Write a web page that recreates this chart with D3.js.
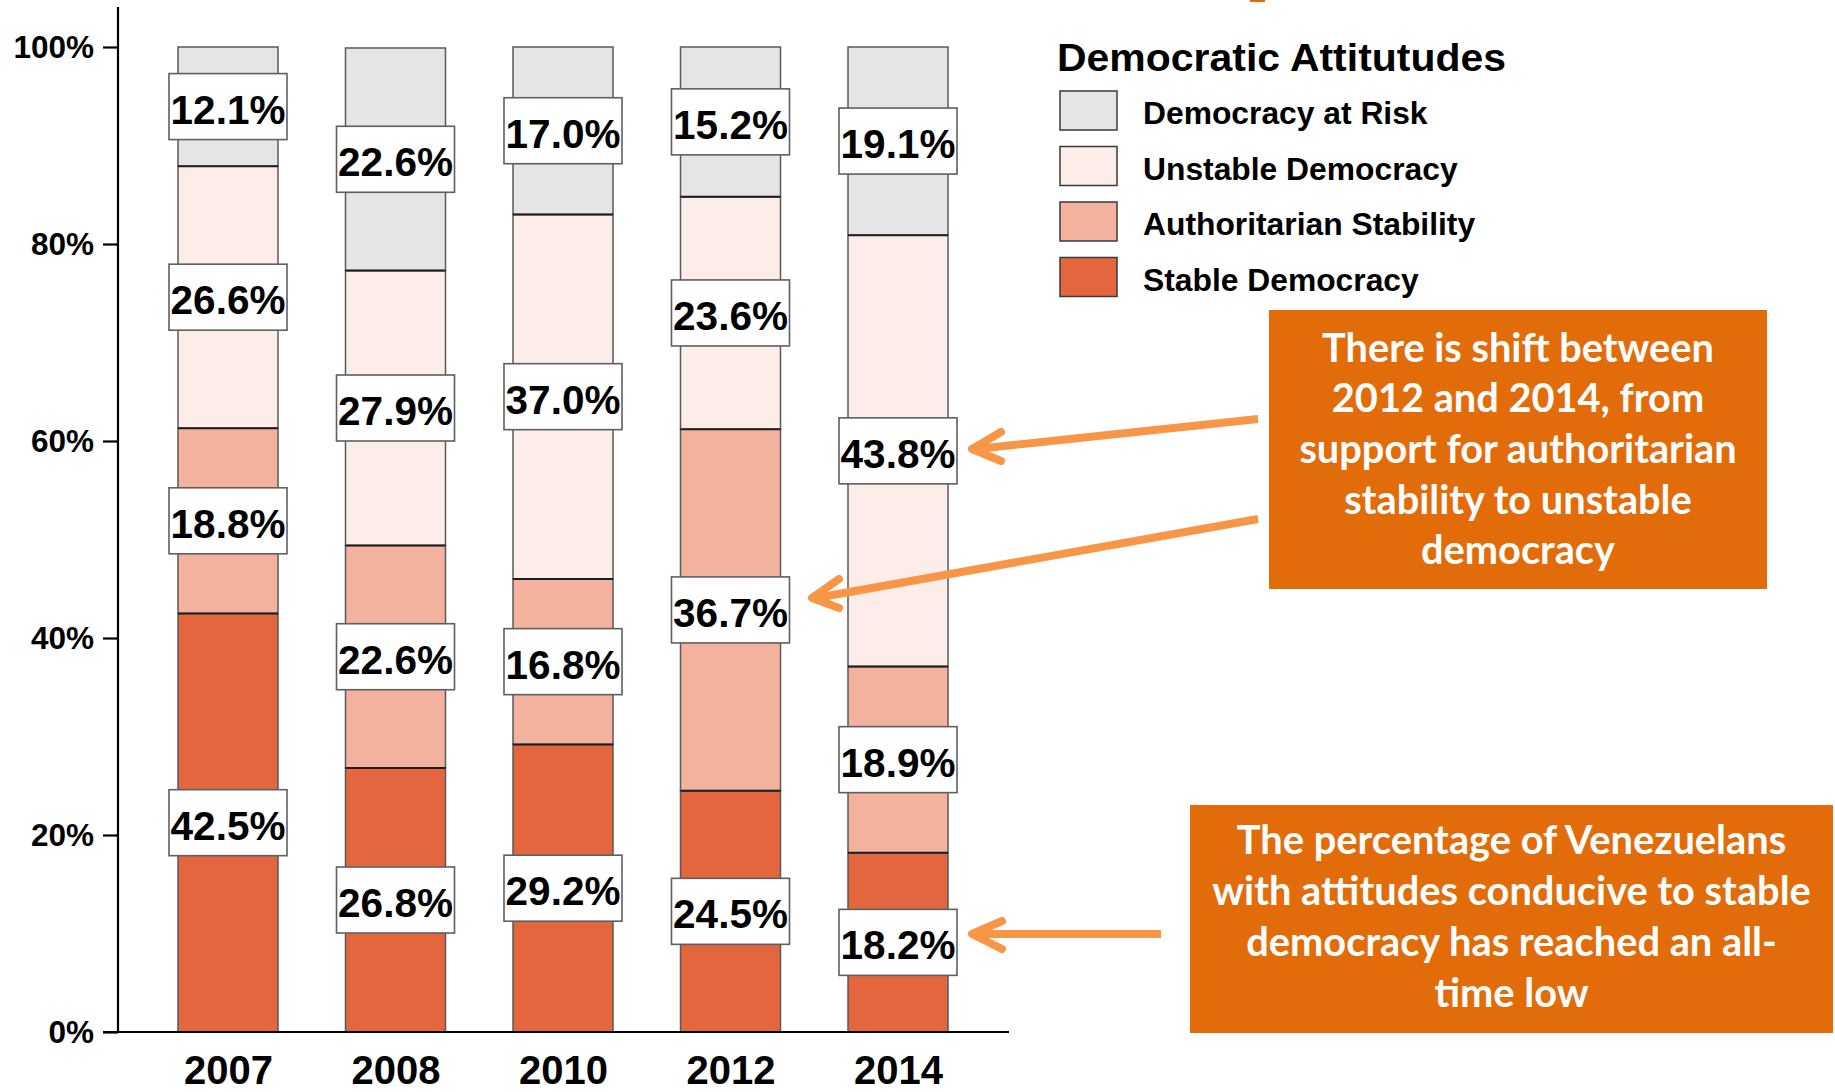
<!DOCTYPE html>
<html>
<head>
<meta charset="utf-8">
<script src="https://cdn.jsdelivr.net/npm/d3@7"></script>
<style>
  html, body { margin: 0; padding: 0; background: #fff; }
  svg { display: block; }
</style>
</head>
<body>
<svg id="chart" width="1835" height="1092"></svg>
<script>
// Survey waves
const years = ["2007", "2008", "2010", "2012", "2014"];

// Share of respondents in each attitude group (%), bottom to top of each bar
const stableDemocracy        = [42.5, 26.8, 29.2, 24.5, 18.2];
const authoritarianStability = [18.8, 22.6, 16.8, 36.7, 18.9];
const unstableDemocracy      = [26.6, 27.9, 37.0, 23.6, 43.8];
const democracyAtRisk        = [12.1, 22.6, 17.0, 15.2, 19.1];

const seriesKeys   = ["stable", "auth", "unstable", "risk"];
const seriesLabels = ["Stable Democracy", "Authoritarian Stability", "Unstable Democracy", "Democracy at Risk"];
const seriesColors = ["#e4663f", "#f2b29e", "#fcede9", "#e5e5e5"];

const yTicks = [0, 20, 40, 60, 80, 100];

const legendTitle = "Democratic Attitutudes";
const noteShift = ["There is shift between", "2012 and 2014, from", "support for authoritarian", "stability to unstable", "democracy"];
const noteLow = ["The percentage of Venezuelans", "with attitudes conducive to stable", "democracy has reached an all-", "time low"];

// ---- table for the stack ----
const rows = years.map((yr, i) => ({
  year: yr,
  stable: stableDemocracy[i],
  auth: authoritarianStability[i],
  unstable: unstableDemocracy[i],
  risk: democracyAtRisk[i]
}));
const stacked = d3.stack().keys(seriesKeys)(rows);

const svg = d3.select("#chart");
const FONT = "'Liberation Sans', Arial, sans-serif";
const NOTE_FONT = "Lato, 'Open Sans', sans-serif";

// ---- scales ----
const x = d3.scalePoint().domain(years).range([228, 898]);
const barW = 100;
const y = d3.scaleLinear().domain([0, 100]).range([1032, 47]);

// ---- y axis ----
const yAxis = d3.axisLeft(y).tickValues(yTicks).tickFormat(d => d + "%").tickSize(15).tickPadding(9);
const gy = svg.append("g").attr("transform", "translate(118,0)").call(yAxis);
gy.select(".domain").remove();
gy.selectAll(".tick line").attr("stroke", "#000").attr("stroke-width", 2.2);
gy.selectAll(".tick text")
  .attr("font-family", FONT).attr("font-weight", "bold").attr("font-size", 31.5).attr("fill", "#000");
svg.append("line").attr("x1", 118).attr("x2", 118).attr("y1", 7).attr("y2", y(0))
  .attr("stroke", "#000").attr("stroke-width", 2.2);

// ---- x axis ----
const xAxis = d3.axisBottom(x).tickSize(0).tickPadding(0);
const gx = svg.append("g").attr("transform", `translate(0,${y(0)})`).call(xAxis);
gx.select(".domain").remove();
gx.selectAll(".tick text")
  .attr("font-family", FONT).attr("font-weight", "bold").attr("font-size", 40).attr("fill", "#000")
  .attr("dy", null).attr("y", 52);

// ---- bars ----
const layers = svg.append("g").selectAll("g.layer").data(stacked).join("g")
  .attr("class", "layer")
  .attr("fill", (d, i) => seriesColors[i]);

layers.selectAll("rect").data(d => d).join("rect")
  .attr("x", d => x(d.data.year) - barW / 2)
  .attr("width", barW)
  .attr("y", d => y(d[1]))
  .attr("height", d => y(d[0]) - y(d[1]))
  .attr("stroke", "#5a5a5a")
  .attr("stroke-width", 1.5);

// dark separators between stacked segments
stacked.slice(0, -1).forEach(layer => {
  svg.append("g").selectAll("line").data(layer).join("line")
    .attr("x1", d => x(d.data.year) - barW / 2)
    .attr("x2", d => x(d.data.year) + barW / 2)
    .attr("y1", d => y(d[1])).attr("y2", d => y(d[1]))
    .attr("stroke", "#1e1e1e").attr("stroke-width", 2);
});

// x axis baseline drawn over the bars
svg.append("line").attr("x1", 103).attr("x2", 1009).attr("y1", y(0)).attr("y2", y(0))
  .attr("stroke", "#000").attr("stroke-width", 2.2);

// ---- value labels ----
const boxW = barW + 18, boxH = 66;
const labelData = [];
stacked.forEach(layer => layer.forEach(d => {
  labelData.push({ year: d.data.year, mid: (d[0] + d[1]) / 2, value: d.data[layer.key] });
}));
const lbl = svg.append("g").selectAll("g").data(labelData).join("g")
  .attr("transform", d => `translate(${x(d.year)},${y(d.mid)})`);
lbl.append("rect")
  .attr("x", -boxW / 2).attr("y", -boxH / 2).attr("width", boxW).attr("height", boxH)
  .attr("fill", "#fff").attr("stroke", "#5f5f5f").attr("stroke-width", 1.6);
lbl.append("text")
  .attr("text-anchor", "middle").attr("y", 17)
  .attr("font-family", FONT).attr("font-weight", "bold").attr("font-size", 40.5).attr("fill", "#000")
  .text(d => d.value.toFixed(1) + "%");

// ---- legend ----
const legend = svg.append("g");
legend.append("text").attr("x", 1057).attr("y", 71)
  .attr("font-family", FONT).attr("font-weight", "bold").attr("font-size", 38).attr("fill", "#000")
  .attr("textLength", 449).attr("lengthAdjust", "spacingAndGlyphs")
  .text(legendTitle);
const legendOrder = [3, 2, 1, 0];
const li = legend.selectAll("g.item").data(legendOrder).join("g")
  .attr("class", "item")
  .attr("transform", (d, i) => `translate(1060,${91 + i * 55.5})`);
li.append("rect").attr("width", 57).attr("height", 39)
  .attr("fill", d => seriesColors[d]).attr("stroke", "#3a3a3a").attr("stroke-width", 1.5);
li.append("text").attr("x", 83).attr("y", 33)
  .attr("font-family", FONT).attr("font-weight", "bold").attr("font-size", 31.8).attr("fill", "#000")
  .text(d => seriesLabels[d]);

// ---- annotations ----
const noteFill = "#e36c0a";
const arrowColor = "#f79646";

svg.append("rect").attr("x", 1250).attr("y", 0).attr("width", 15).attr("height", 2).attr("fill", noteFill);

function note(lines, box, baselines, targetWidth, refIndex) {
  const g = svg.append("g");
  g.append("rect").attr("x", box[0]).attr("y", box[1]).attr("width", box[2]).attr("height", box[3])
    .attr("fill", noteFill);
  const cx = box[0] + box[2] / 2;
  const texts = g.selectAll("text").data(lines).join("text")
    .attr("x", cx).attr("y", (d, i) => baselines[i])
    .attr("text-anchor", "middle")
    .attr("font-family", NOTE_FONT).attr("font-weight", "bold").attr("font-size", 40)
    .attr("fill", "#fff")
    .text(d => d);
  const w = texts.nodes()[refIndex].getComputedTextLength();
  texts.attr("font-size", 40 * targetWidth / w);
}
note(noteShift, [1269, 310, 498, 279], [362, 412, 463, 514, 564], 392, 0);
note(noteLow, [1190, 805, 643, 228], [854, 905, 956, 1007], 599, 1);

function arrow(from, tip, a1, a2) {
  const g = svg.append("g").attr("fill", "none").attr("stroke", arrowColor)
    .attr("stroke-width", 8).attr("stroke-linecap", "round").attr("stroke-linejoin", "round");
  g.append("line").attr("x1", from[0]).attr("y1", from[1]).attr("x2", tip[0] + 4).attr("y2", tip[1])
    .attr("stroke-linecap", "butt");
  g.append("path").attr("d", d3.line()([a1, tip, a2]));
}
arrow([1258, 419], [972, 449], [1001, 432], [1001, 461]);
arrow([1258, 519], [812, 598], [839, 579], [839, 608]);
arrow([1161, 934], [972, 934], [1002, 921], [1002, 949]);
</script>
</body>
</html>
